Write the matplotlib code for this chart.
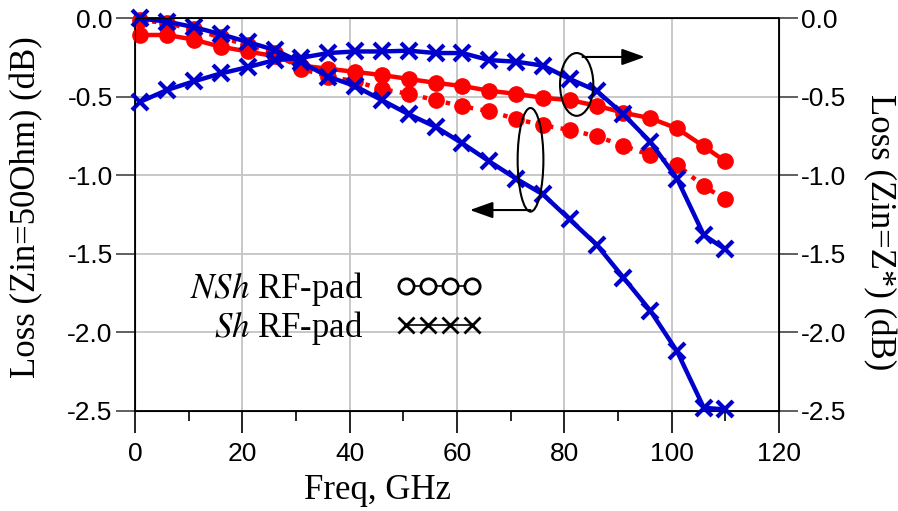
import matplotlib
matplotlib.use("Agg")
import matplotlib.pyplot as plt
from matplotlib.lines import Line2D
from matplotlib.patches import Ellipse

plt.rcParams['font.family'] = ['Liberation Serif', 'DejaVu Serif']
plt.rcParams['mathtext.fontset'] = 'stix'

# frequency points (GHz)
freq = [1, 6, 11, 16, 21, 26, 31, 36, 41, 46, 51, 56, 61, 66, 71, 76, 81, 86, 91, 96, 101, 106, 110]

# NSh RF-pad
nsh_50 = [-0.01, -0.03, -0.07, -0.12, -0.17, -0.22, -0.32, -0.37, -0.40, -0.45, -0.48, -0.52,
          -0.56, -0.59, -0.64, -0.68, -0.71, -0.75, -0.81, -0.87, -0.93, -1.07, -1.15]
nsh_conj = [-0.105, -0.105, -0.135, -0.18, -0.21, -0.24, -0.30, -0.32, -0.34, -0.36, -0.385, -0.41,
            -0.43, -0.46, -0.48, -0.505, -0.52, -0.555, -0.60, -0.635, -0.70, -0.815, -0.91]

# Sh RF-pad
sh_50 = [0.0, -0.02, -0.055, -0.10, -0.15, -0.20, -0.28, -0.37, -0.43, -0.52, -0.61, -0.69,
         -0.795, -0.91, -1.02, -1.12, -1.28, -1.44, -1.65, -1.86, -2.12, -2.48, -2.49]
sh_conj = [-0.53, -0.455, -0.40, -0.35, -0.31, -0.265, -0.25, -0.22, -0.21, -0.21, -0.205, -0.22,
           -0.22, -0.265, -0.275, -0.30, -0.385, -0.46, -0.61, -0.785, -1.02, -1.38, -1.47]

ytick_vals = [0, -0.5, -1.0, -1.5, -2.0, -2.5]
ytick_labels = ['0.0', '-0.5', '-1.0', '-1.5', '-2.0', '-2.5']

red = '#ff0000'
blue = '#0000cc'

fig = plt.figure(figsize=(8.98, 5.11), dpi=100)
ax = fig.add_axes([0.1503, 0.1957, 0.7172, 0.7681])

ax.plot(freq, nsh_conj, color=red, lw=3.2, marker='o', ms=11, clip_on=False, zorder=3)
ax.plot(freq, nsh_50, color=red, lw=3.2, ls=':', marker='o', ms=11, clip_on=False, zorder=3)
ax.plot(freq, sh_conj, color=blue, lw=3.2, marker='x', ms=11, mew=3, clip_on=False, zorder=4)
ax.plot(freq, sh_50, color=blue, lw=3.2, marker='x', ms=11, mew=3, clip_on=False, zorder=4)

ax.set_xlim(0, 120)
ax.set_ylim(-2.5, 0)
ax.set_xticks(range(0, 121, 20))
ax.set_xticks(range(10, 120, 20), minor=True)
ax.set_yticks(ytick_vals)
ax.set_yticklabels(ytick_labels)
ax.grid(True, color='#c4c4c4', lw=1.3)
ax.tick_params(axis='x', which='major', direction='out', length=16, width=1.2, labelsize=19, pad=6)
ax.tick_params(axis='x', which='minor', direction='out', length=7, width=1.2)
ax.tick_params(axis='y', direction='out', length=14, width=1.2, labelsize=19, pad=2, color='#444444')
for lab in ax.get_xticklabels() + ax.get_yticklabels():
    lab.set_family('Liberation Sans')
for s in ax.spines.values():
    s.set_linewidth(1.3)

ax.set_xlabel('Freq, GHz', fontsize=25)
ax.xaxis.set_label_coords(0.377, -0.16)
ax.set_ylabel('Loss (Zin=50Ohm) (dB)', fontsize=25)
ax.yaxis.set_label_coords(-0.143, 0.52)

ax2 = ax.twinx()
ax2.set_ylim(-2.5, 0)
ax2.set_yticks(ytick_vals)
ax2.set_yticklabels(ytick_labels)
ax2.tick_params(axis='y', direction='out', length=14, width=1.2, labelsize=19, pad=2, color='#444444')
for lab in ax2.get_yticklabels():
    lab.set_family('Liberation Sans')
ax2.set_ylabel('Loss (Zin=Z*) (dB)', fontsize=25, rotation=-90)
ax2.yaxis.set_label_coords(1.182, 0.455)

# ellipses with arrows pointing to axes
arrow = dict(arrowstyle='-|>,head_length=0.7,head_width=0.25', color='black',
             lw=1.5, mutation_scale=20, shrinkA=0, shrinkB=0)
ax.add_patch(Ellipse((82.3, -0.42), 6.2, 0.40, fill=False, ec='black', lw=1.5, zorder=5))
ax.annotate('', xy=(95, -0.245), xytext=(83.4, -0.245), arrowprops=arrow)
ax.add_patch(Ellipse((73.7, -0.90), 4.8, 0.66, fill=False, ec='black', lw=1.5, zorder=5))
ax.annotate('', xy=(62.4, -1.22), xytext=(73.7, -1.22), arrowprops=arrow)

h1 = Line2D([], [], color='black', lw=1.2, marker='o', ms=11, mfc='white', mew=2)
h2 = Line2D([], [], color='black', lw=1.2, marker='x', ms=11, mew=2)
ax.legend([h1, h2], [r'$\it{NSh}$ RF-pad', r'$\it{Sh}$ RF-pad'], loc='upper left',
          bbox_to_anchor=(0.085, 0.36), frameon=False, markerfirst=False, numpoints=4,
          handlelength=2.5, handletextpad=0.95, labelspacing=0.05, borderpad=0,
          borderaxespad=0, fontsize=25)

fig.savefig('out.png', dpi=100)
